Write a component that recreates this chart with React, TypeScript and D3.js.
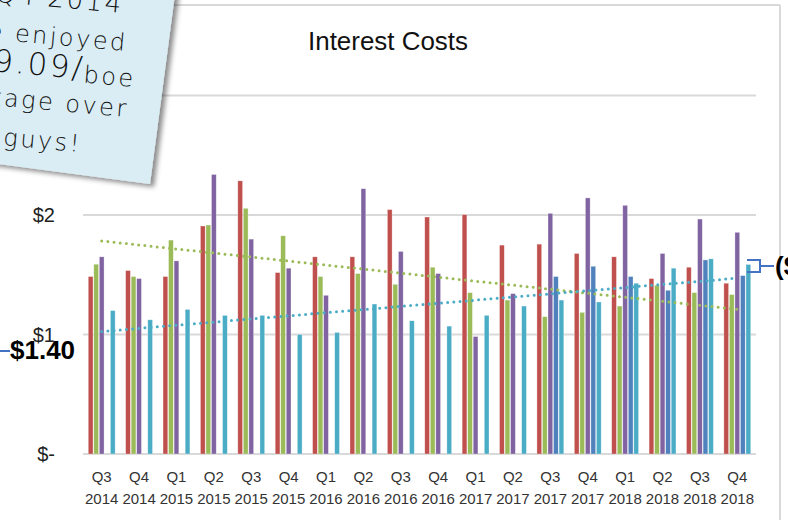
import React from 'react';
import * as d3 from 'd3';

const quarters = ['Q3', 'Q4', 'Q1', 'Q2', 'Q3', 'Q4', 'Q1', 'Q2', 'Q3', 'Q4', 'Q1', 'Q2', 'Q3', 'Q4', 'Q1', 'Q2', 'Q3', 'Q4'];
const years = ['2014', '2014', '2015', '2015', '2015', '2015', '2016', '2016', '2016', '2016', '2017', '2017', '2017', '2017', '2018', '2018', '2018', '2018'];

const redValues = [1.485, 1.535, 1.485, 1.908, 2.286, 1.518, 1.65, 1.65, 2.045, 1.983, 2.003, 1.748, 1.756, 1.678, 1.65, 1.468, 1.563, 1.429];
const greenValues = [1.588, 1.485, 1.79, 1.916, 2.056, 1.826, 1.485, 1.51, 1.42, 1.563, 1.35, 1.288, 1.149, 1.185, 1.238, 1.412, 1.35, 1.334];
const purpleValues = [1.65, 1.468, 1.616, 2.339, 1.798, 1.555, 1.328, 2.22, 1.695, 1.51, 0.983, 1.342, 2.014, 2.143, 2.081, 1.678, 1.966, 1.855];
const blueValues: (number | null)[] = [null, null, null, null, null, null, null, null, null, null, null, null, 1.485, 1.571, 1.485, 1.37, 1.624, 1.493];
const tealValues = [1.2, 1.123, 1.21, 1.16, 1.16, 1.0, 1.017, 1.255, 1.115, 1.07, 1.16, 1.238, 1.288, 1.272, 1.429, 1.555, 1.633, 1.586];

const seriesNames = ['red', 'green', 'purple', 'blue', 'teal'];
const seriesColors = ['#C0504D', '#9BBB59', '#8064A2', '#4F81BD', '#4BACC6'];
const yTicks = [0, 1, 2, 3];
const yTickLabels = ['$-', '$1', '$2', '$3'];

const noteLines = ['In Q4 2014', 'we enjoyed', 'a $9.09/', 'boe', 'an advantage over', 'the other guys!'];

function regression(vals: number[]) {
  const n = vals.length;
  const xs = d3.range(n);
  const mx = d3.mean(xs) as number;
  const my = d3.mean(vals) as number;
  let num = 0, den = 0;
  xs.forEach((x, i) => { num += (x - mx) * (vals[i] - my); den += (x - mx) * (x - mx); });
  const slope = num / den;
  return (x: number) => my + slope * (x - mx);
}

export default function App() {
  const W = 788, H = 520;
  const idx = quarters.map((_, i) => i);
  const x = d3.scaleBand<number>().domain(idx).range([83, 756]).paddingInner(0.26).paddingOuter(0.13);
  const inner = d3.scaleBand<string>().domain(seriesNames).range([0, x.bandwidth()]);
  const y = d3.scaleLinear().domain([0, 3]).range([454, 95.5]);
  const allSeries = [redValues, greenValues, purpleValues, blueValues, tealValues];

  const cx = (i: number) => (x(i) as number) + x.bandwidth() / 2;
  const greenTrend = regression(greenValues);
  const tealTrend = regression(tealValues);
  const trendPath = (f: (x: number) => number) =>
    d3.line<number>().x((i) => cx(i)).y((i) => y(f(i)))([0, quarters.length - 1]) as string;

  return (
    <svg width={W} height={H} style={{ position: 'absolute', left: 0, top: 0, background: '#fff' }}>
      <defs>
        <filter id="shadow" x="-20%" y="-20%" width="140%" height="140%">
          <feDropShadow dx="4" dy="3" stdDeviation="2.5" floodColor="#000" floodOpacity="0.45" />
        </filter>
      </defs>
      <rect x={0} y={0} width={W} height={H} fill="#fff" />
      {/* frame */}
      <line x1={0} x2={780} y1={5} y2={5} stroke="#D9D9D9" strokeWidth={2} />
      <line x1={780} x2={780} y1={5} y2={H} stroke="#D9D9D9" strokeWidth={2} />

      {/* gridlines */}
      {yTicks.map((t) => (
        <line key={t} x1={83} x2={756} y1={y(t)} y2={y(t)} stroke="#D9D9D9" strokeWidth={2} />
      ))}
      {yTicks.map((t, i) => (
        <text key={'l' + t} x={55} y={y(t) + 7} textAnchor="end" fontFamily="Liberation Sans, Arial, sans-serif" fontSize={20} fill="#222">
          {yTickLabels[i]}
        </text>
      ))}

      {/* title */}
      <text x={388} y={50} textAnchor="middle" fontFamily="Liberation Sans, Arial, sans-serif" fontSize={25} textLength={160} lengthAdjust="spacingAndGlyphs" fill="#111">
        Interest Costs
      </text>

      {/* bars */}
      {allSeries.map((vals, s) => (
        <g key={s}>
          {vals.map((v, i) =>
            v == null ? null : (
              <rect
                key={i}
                x={(x(i) as number) + (inner(seriesNames[s]) as number) + 0.4}
                y={y(v)}
                width={inner.bandwidth() - 0.8}
                height={y(0) - y(v)}
                fill={seriesColors[s]}
                stroke="#fff"
                strokeOpacity={0.5}
                strokeWidth={0.6}
              />
            )
          )}
        </g>
      ))}

      {/* trend lines */}
      <path d={trendPath(greenTrend)} fill="none" stroke="#9BBB59" strokeWidth={3} strokeDasharray="0 6.2" strokeLinecap="round" />
      <path d={trendPath(tealTrend)} fill="none" stroke="#4BACC6" strokeWidth={3} strokeDasharray="0 6.2" strokeLinecap="round" />

      {/* x labels */}
      {quarters.map((q, i) => (
        <g key={'x' + i} fontFamily="Liberation Sans, Arial, sans-serif" fontSize={15} fill="#333" textAnchor="middle">
          <text x={cx(i)} y={482}>{q}</text>
          <text x={cx(i)} y={504}>{years[i]}</text>
        </g>
      ))}

      {/* left callout */}
      <line x1={0} x2={10} y1={351} y2={351} stroke="#4472C4" strokeWidth={2} />
      <text x={10} y={359} fontFamily="Liberation Sans, Arial, sans-serif" fontWeight="bold" fontSize={26} fill="#000">$1.40</text>

      {/* right callout */}
      <path d="M747,260 H760 V272 H747 M760,266 H774" fill="none" stroke="#4472C4" strokeWidth={2} />
      <text x={775} y={275} fontFamily="Liberation Sans, Arial, sans-serif" fontWeight="bold" fontSize={26} fill="#000">($0.06)</text>

      {/* sticky note */}
      <g filter="url(#shadow)">
        <g transform="translate(150,184) rotate(7.5)">
          <rect x={-280} y={-280} width={280} height={280} fill="#DAEDF4" />
        </g>
      </g>
      <g fontFamily="DejaVu Sans, sans-serif" fontWeight={200} fill="#111" textAnchor="end" letterSpacing={2.5}>
        <text transform="translate(123,13) rotate(5)" fontSize={26}>{noteLines[0]}</text>
        <text transform="translate(127,51) rotate(5)" fontSize={24}>{noteLines[1]}</text>
        <text transform="translate(84,79) rotate(5)" fontSize={31}>{noteLines[2]}</text>
        <text transform="translate(135,87) rotate(5)" fontSize={24}>{noteLines[3]}</text>
        <text transform="translate(128,117) rotate(5)" fontSize={24}>{noteLines[4]}</text>
        <text transform="translate(81,152) rotate(5)" fontSize={24}>{noteLines[5]}</text>
      </g>
    </svg>
  );
}
